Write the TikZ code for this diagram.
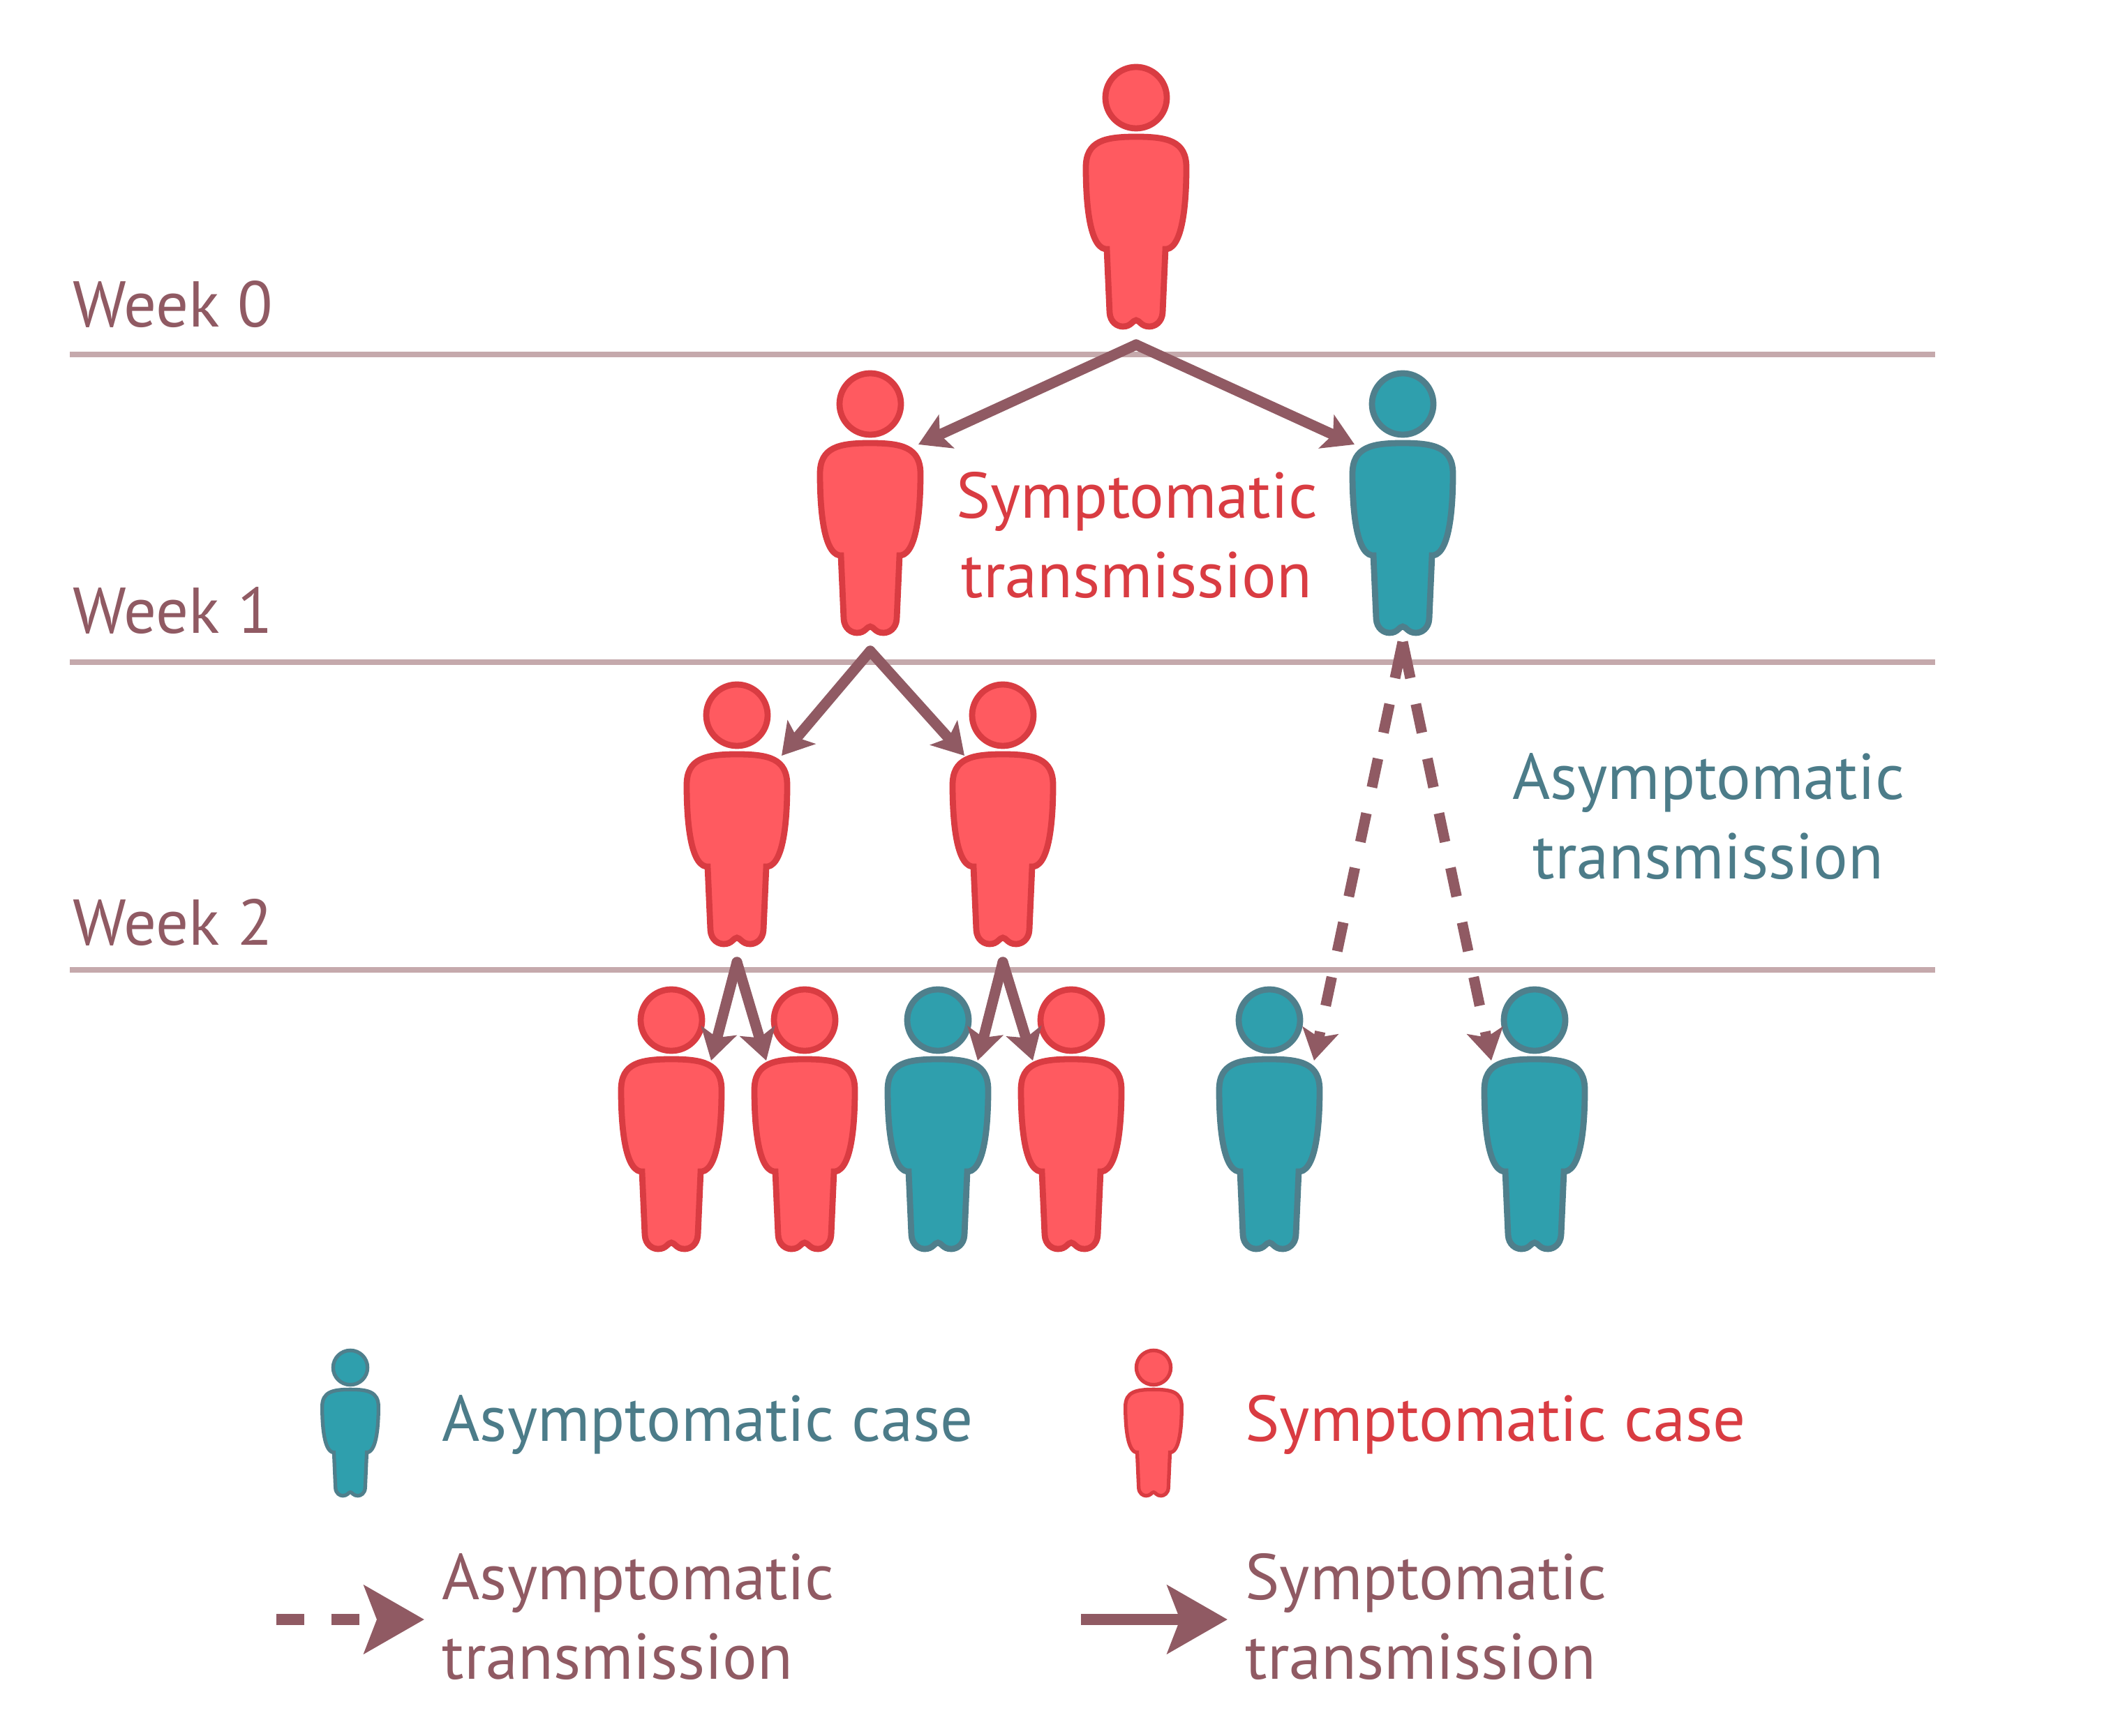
\documentclass[tikz,border=0pt]{standalone}
\usepackage{fontspec}
\usepackage{tikz}
\usetikzlibrary{arrows.meta}
\setmainfont{PT Sans}

\definecolor{redfill}{HTML}{FF5A60}
\definecolor{redline}{HTML}{D93C42}
\definecolor{tealfill}{HTML}{2F9FAD}
\definecolor{tealline}{HTML}{4F7F8C}
\definecolor{mauve}{HTML}{905A63}
\definecolor{weekline}{HTML}{C5A9AC}
\definecolor{teallabel}{HTML}{4C7C89}

\tikzset{
  person/.pic={
    \filldraw (0,0) circle (0.44);
    \filldraw (0,-0.56) .. controls (0.45,-0.56) and (0.72,-0.62) .. (0.72,-1.0)
      .. controls (0.72,-1.45) and (0.68,-2.13) .. (0.44,-2.17)
      -- (0.42,-2.17) -- (0.38,-3.08)
      .. controls (0.37,-3.22) and (0.27,-3.28) .. (0.19,-3.28)
      .. controls (0.07,-3.28) and (0.05,-3.19) .. (0,-3.19)
      .. controls (-0.05,-3.19) and (-0.07,-3.28) .. (-0.19,-3.28)
      .. controls (-0.27,-3.28) and (-0.37,-3.22) .. (-0.38,-3.08)
      -- (-0.42,-2.17) -- (-0.44,-2.17)
      .. controls (-0.68,-2.13) and (-0.72,-1.45) .. (-0.72,-1.0)
      .. controls (-0.72,-0.62) and (-0.45,-0.56) .. (0,-0.56) -- cycle;
    \coordinate (-foot) at (0,-3.54);
    \coordinate (-heel) at (0,-3.41);
    \coordinate (-left) at (-0.69,-0.58);
    \coordinate (-right) at (0.69,-0.58);
    \coordinate (-midleft) at (-0.62,-0.58);
    \coordinate (-midright) at (0.64,-0.58);
    \coordinate (-nearleft) at (-0.55,-0.58);
    \coordinate (-nearright) at (0.57,-0.58);
  },
  sick/.style={fill=redfill, draw=redline, line width=2.5pt},
  carrier/.style={fill=tealfill, draw=tealline, line width=2.5pt},
  small/.style={scale=0.56, line width=1.5pt},
  spread/.style={draw=mauve, line width=4.3pt, line cap=round,
    -{Stealth[length=44*0.2845pt, width=52*0.2845pt, inset=10*0.2845pt]}},
  hidden/.style={spread, line cap=butt,
    dash pattern=on 53*0.2845pt off 38*0.2845pt on 42*0.2845pt off 38*0.2845pt on 42*0.2845pt off 38*0.2845pt on 42*0.2845pt off 38*0.2845pt on 42*0.2845pt off 38*0.2845pt on 42*0.2845pt off 38*0.2845pt on 42*0.2845pt off 38*0.2845pt},
  bigtip/.style={draw=mauve, line width=4.6pt, line cap=butt,
    -{Stealth[length=86*0.2845pt, width=97*0.2845pt, inset=18*0.2845pt]}},
  label/.style={font=\fontsize{26.4}{32.4}\selectfont, inner sep=0pt},
  week/.style={label, text=mauve, anchor=base west},
  weekrule/.style={draw=weekline, line width=2pt},
}

\begin{document}
\begin{tikzpicture}
  \useasboundingbox (0,0) rectangle (30.25,24.87);
  % week lines
  \coordinate (w0a) at (1,19.79);
  \coordinate (w0b) at (27.73,19.79);
  \coordinate (w1a) at (1,15.38);
  \coordinate (w1b) at (27.73,15.38);
  \coordinate (w2a) at (1,10.97);
  \coordinate (w2b) at (27.73,10.97);
  \draw[weekrule] (w0a) -- (w0b);
  \draw[weekrule] (w1a) -- (w1b);
  \draw[weekrule] (w2a) -- (w2b);
  \node[week] (week0) at (1.04,20.18) {Week 0};
  \node[week] (week1) at (1.04,15.79) {Week 1};
  \node[week] (week2) at (1.04,11.33) {Week 2};
  % people
  \pic[sick] (a) at (16.28,23.47) {person};
  \pic[sick] (b) at (12.47,19.08) {person};
  \pic[carrier] (c) at (20.10,19.08) {person};
  \pic[sick] (d) at (10.56,14.62) {person};
  \pic[sick] (e) at (14.37,14.62) {person};
  \pic[sick] (f) at (9.62,10.25) {person};
  \pic[sick] (g) at (11.53,10.25) {person};
  \pic[carrier] (h) at (13.44,10.25) {person};
  \pic[sick] (i) at (15.35,10.25) {person};
  \pic[carrier] (j) at (18.19,10.25) {person};
  \pic[carrier] (k) at (21.99,10.25) {person};
  % transmission
  \draw[spread] (a-foot) -- (b-right);
  \draw[spread] (a-foot) -- (c-left);
  \draw[spread] (b-foot) -- (d-midright);
  \draw[spread] (b-foot) -- (e-nearleft);
  \draw[spread] (d-foot) -- (f-nearright);
  \draw[spread] (d-foot) -- (g-nearleft);
  \draw[spread] (e-foot) -- (h-nearright);
  \draw[spread] (e-foot) -- (i-nearleft);
  \draw[hidden] (c-heel) -- (j-midright);
  \draw[hidden] (c-heel) -- (k-midleft);
  \node[label, text=redline, align=center] (symlabel) at (16.29,17.2) {Symptomatic\\transmission};
  \node[label, text=teallabel, align=center] (asylabel) at (24.48,13.17) {Asymptomatic\\transmission};
  % legend
  \pic[carrier, small] (keya) at (5.02,5.27) {person};
  \pic[sick, small] (keys) at (16.53,5.27) {person};
  \node[label, text=teallabel, anchor=base west] (keyatext) at (6.33,4.22) {Asymptomatic case};
  \node[label, text=redline, anchor=base west] (keystext) at (17.84,4.22) {Symptomatic case};
  \coordinate (dasha) at (3.96,1.66);
  \coordinate (dashb) at (6.08,1.66);
  \coordinate (linea) at (15.49,1.66);
  \coordinate (lineb) at (17.59,1.66);
  \draw[bigtip, dash pattern=on 40*0.2845pt off 39*0.2845pt] (dasha) -- (dashb);
  \draw[bigtip] (linea) -- (lineb);
  \node[label, text=mauve, align=left, anchor=west] (keydash) at (6.33,1.7) {Asymptomatic\\transmission};
  \node[label, text=mauve, align=left, anchor=west] (keyline) at (17.84,1.7) {Symptomatic\\transmission};
\end{tikzpicture}
\end{document}
